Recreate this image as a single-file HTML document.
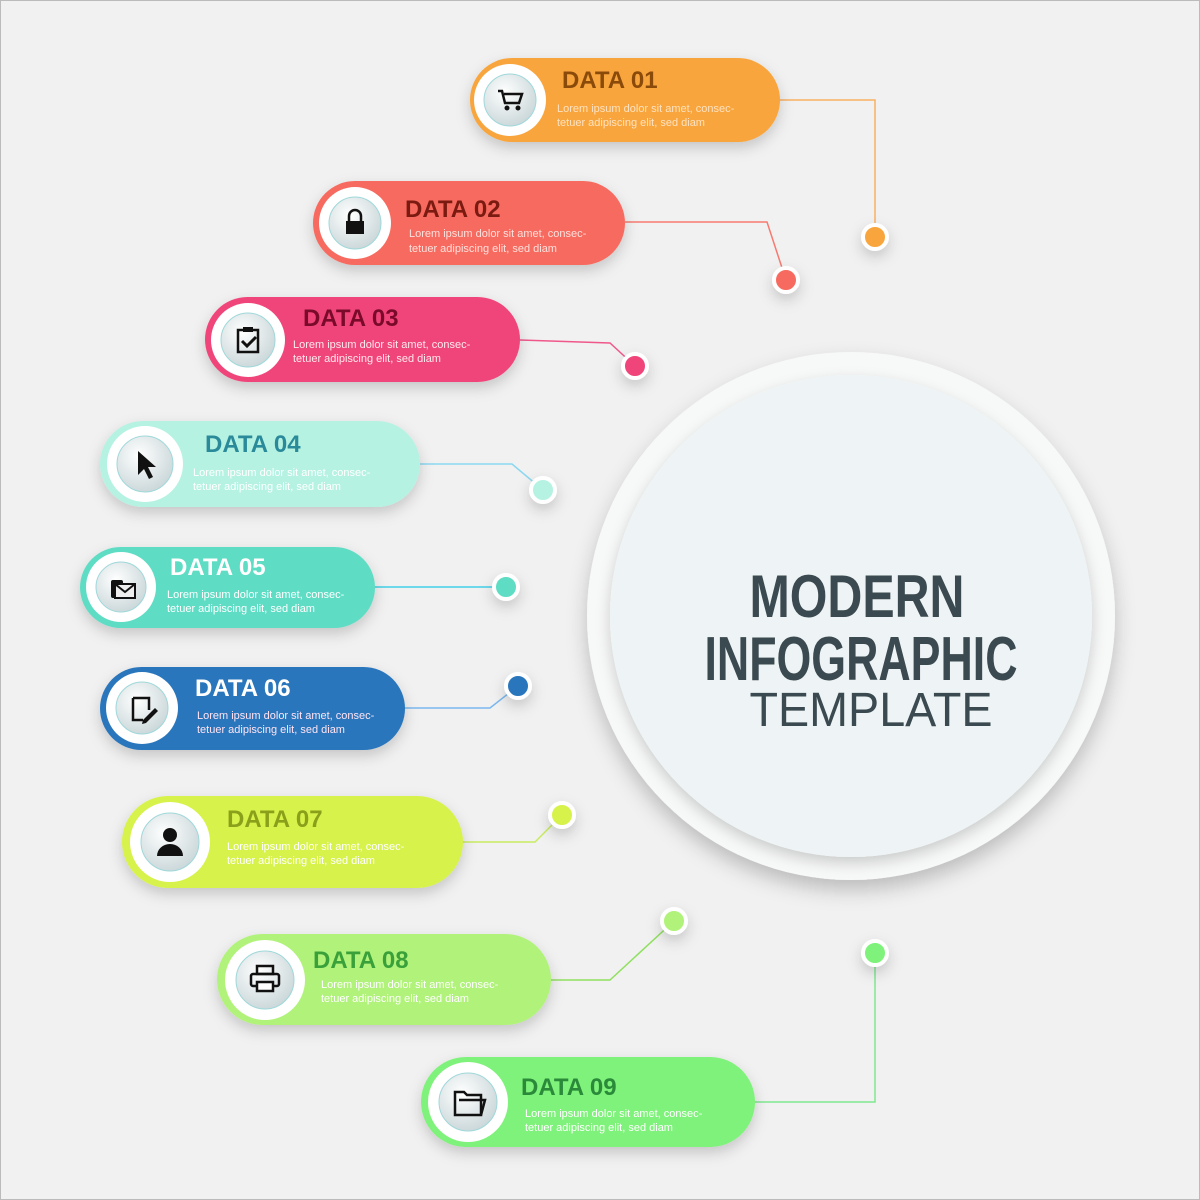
<!DOCTYPE html>
<html><head><meta charset="utf-8"><style>
html,body{margin:0;padding:0;background:#f1f1f1;}
svg{display:block}
.t{font-family:"Liberation Sans",sans-serif;font-weight:bold;font-size:24px}
.b{font-family:"Liberation Sans",sans-serif;font-size:11px}
</style></head><body>
<svg width="1200" height="1200" viewBox="0 0 1200 1200" xmlns="http://www.w3.org/2000/svg">
<defs>
<filter id="sh" x="-20%" y="-30%" width="140%" height="170%"><feDropShadow dx="0" dy="6" stdDeviation="7" flood-color="#000" flood-opacity="0.18"/></filter>
<filter id="sh2" x="-20%" y="-20%" width="140%" height="150%"><feDropShadow dx="0" dy="10" stdDeviation="10" flood-color="#000" flood-opacity="0.22"/></filter>
<radialGradient id="ig" cx="0.4" cy="0.35" r="0.7"><stop offset="0" stop-color="#ffffff"/><stop offset="1" stop-color="#c9d6d8"/></radialGradient>
</defs>
<rect x="0.5" y="0.5" width="1199" height="1199" fill="#f1f1f1" stroke="#bbb"/>

<!-- big circle -->
<circle cx="851" cy="616" r="264" fill="#f7f8f8" filter="url(#sh2)"/>
<circle cx="851" cy="616" r="241" fill="#eef4f5" filter="url(#sh)"/>
<g font-family="Liberation Sans,sans-serif" fill="#3b4a50" text-anchor="middle">
<text x="857" y="617" font-size="60" font-weight="bold" textLength="215" lengthAdjust="spacingAndGlyphs">MODERN</text>
<text x="861" y="680" font-size="62" font-weight="bold" textLength="313" lengthAdjust="spacingAndGlyphs">INFOGRAPHIC</text>
<text x="871" y="726" font-size="48" textLength="243" lengthAdjust="spacingAndGlyphs">TEMPLATE</text>
</g>

<!-- connectors -->
<g fill="none" stroke-width="1.5">
<polyline points="780,100 875,100 875,237" stroke="#f9b060"/>
<polyline points="625,222 767,222 786,280" stroke="#f77a70"/>
<polyline points="520,340 610,343 635,366" stroke="#f0588a"/>
<polyline points="420,464 512,464 543,490" stroke="#8ad8f0"/>
<polyline points="375,587 506,587" stroke="#40d0e8"/>
<polyline points="405,708 490,708 518,686" stroke="#7ab8f0"/>
<polyline points="463,842 535,842 562,815" stroke="#c8ec60"/>
<polyline points="551,980 610,980 674,921" stroke="#90e060"/>
<polyline points="755,1102 875,1102 875,953" stroke="#80e890"/>
</g>
<g stroke="#fff" stroke-width="4" filter="url(#sh)">
<circle cx="875" cy="237" r="12" fill="#f9a53c"/>
<circle cx="786" cy="280" r="12" fill="#f76b5f"/>
<circle cx="635" cy="366" r="12" fill="#f0457a"/>
<circle cx="543" cy="490" r="12" fill="#b5f2e2"/>
<circle cx="506" cy="587" r="12" fill="#5fdcc4"/>
<circle cx="518" cy="686" r="12" fill="#2a76bc"/>
<circle cx="562" cy="815" r="12" fill="#d6f24c"/>
<circle cx="674" cy="921" r="12" fill="#b0f27a"/>
<circle cx="875" cy="953" r="12" fill="#7ef27a"/>
</g>

<!-- pills -->
<g filter="url(#sh)">
<rect x="470" y="58" width="310" height="84" rx="42" fill="#f9a53c"/>
<rect x="313" y="181" width="312" height="84" rx="42" fill="#f76b5f"/>
<rect x="205" y="297" width="315" height="85" rx="42.5" fill="#f0457a"/>
<rect x="100" y="421" width="320" height="86" rx="43" fill="#b5f2e2"/>
<rect x="80" y="547" width="295" height="81" rx="40.5" fill="#5fdcc4"/>
<rect x="100" y="667" width="305" height="83" rx="41.5" fill="#2a76bc"/>
<rect x="122" y="796" width="341" height="92" rx="46" fill="#d6f24c"/>
<rect x="217" y="934" width="334" height="91" rx="45.5" fill="#b0f27a"/>
<rect x="421" y="1057" width="334" height="90" rx="45" fill="#7ef27a"/>
</g>

<!-- icon circles -->
<g>
<circle cx="510" cy="100" r="36" fill="#fff"/><circle cx="510" cy="100" r="26" fill="url(#ig)" stroke="#9fd8da"/>
<circle cx="355" cy="223" r="36" fill="#fff"/><circle cx="355" cy="223" r="26" fill="url(#ig)" stroke="#9fd8da"/>
<circle cx="248" cy="340" r="37" fill="#fff"/><circle cx="248" cy="340" r="27" fill="url(#ig)" stroke="#9fd8da"/>
<circle cx="145" cy="464" r="38" fill="#fff"/><circle cx="145" cy="464" r="28" fill="url(#ig)" stroke="#9fd8da"/>
<circle cx="121" cy="587" r="35" fill="#fff"/><circle cx="121" cy="587" r="25" fill="url(#ig)" stroke="#9fd8da"/>
<circle cx="142" cy="708" r="36" fill="#fff"/><circle cx="142" cy="708" r="26" fill="url(#ig)" stroke="#9fd8da"/>
<circle cx="170" cy="842" r="40" fill="#fff"/><circle cx="170" cy="842" r="29" fill="url(#ig)" stroke="#9fd8da"/>
<circle cx="265" cy="980" r="40" fill="#fff"/><circle cx="265" cy="980" r="29" fill="url(#ig)" stroke="#9fd8da"/>
<circle cx="468" cy="1102" r="40" fill="#fff"/><circle cx="468" cy="1102" r="29" fill="url(#ig)" stroke="#9fd8da"/>
</g>

<!-- icons -->
<g fill="#111" stroke="#111">
<!-- cart -->
<path d="M498,91 h4 l3,12 h14 l3,-9 h-18" fill="none" stroke-width="2.5"/><circle cx="507" cy="108" r="2"/><circle cx="518" cy="108" r="2"/>
<!-- lock -->
<path d="M349,221 v-5 a6,6 0 0 1 12,0 v5" fill="none" stroke-width="2.5"/><rect x="346" y="221" width="18" height="13" stroke="none"/>
<!-- clipboard -->
<rect x="238" y="330" width="20" height="22" fill="none" stroke-width="2.5"/><rect x="243" y="327" width="10" height="5" stroke="none"/><path d="M242,341 l5,5 l9,-9" fill="none" stroke-width="3"/>
<!-- cursor -->
<path d="M138,451 l0,24 l6,-6 l5,10 l4,-2 l-5,-10 l8,0 z" stroke="none"/>
<!-- mail -->
<rect x="111" y="580" width="12" height="18" rx="2" stroke="none"/><rect x="115" y="584" width="20" height="14" fill="#eee" stroke-width="2"/><path d="M115,584 l10,8 l10,-8" fill="none" stroke-width="2"/>
<!-- note -->
<path d="M133,698 h16 v12 M133,698 v22 h10" fill="none" stroke-width="2.5"/><path d="M143,720 l12,-12 l3,3 l-12,12 l-4,1 z" stroke="none"/>
<!-- user -->
<circle cx="170" cy="835" r="7" stroke="none"/><path d="M157,856 a13,12 0 0 1 26,0 z" stroke="none"/>
<!-- printer -->
<rect x="257" y="966" width="16" height="8" fill="none" stroke-width="2.5"/><rect x="251" y="974" width="28" height="12" rx="2" fill="none" stroke-width="2.5"/><rect x="257" y="982" width="16" height="9" fill="#fff" stroke-width="2.5"/>
<!-- folder -->
<path d="M455,1092 h9 l3,3 h14 v20 h-26 z" fill="none" stroke-width="2.5"/><path d="M459,1100 h26 l-4,15" fill="none" stroke-width="2.5"/>
</g>

<!-- text -->
<g>
<text class="t" x="562" y="88" fill="#8a4a0a">DATA 01</text>
<text class="b" x="557" y="112" fill="#fde2c0">Lorem ipsum dolor sit amet, consec-</text>
<text class="b" x="557" y="126" fill="#fde2c0">tetuer adipiscing elit, sed diam</text>

<text class="t" x="405" y="217" fill="#7a1a10">DATA 02</text>
<text class="b" x="409" y="237" fill="#fde0dc">Lorem ipsum dolor sit amet, consec-</text>
<text class="b" x="409" y="252" fill="#fde0dc">tetuer adipiscing elit, sed diam</text>

<text class="t" x="303" y="326" fill="#7a0a2a">DATA 03</text>
<text class="b" x="293" y="348" fill="#ffe8ee">Lorem ipsum dolor sit amet, consec-</text>
<text class="b" x="293" y="362" fill="#ffe8ee">tetuer adipiscing elit, sed diam</text>

<text class="t" x="205" y="452" fill="#2a8a9a">DATA 04</text>
<text class="b" x="193" y="476" fill="#fff">Lorem ipsum dolor sit amet, consec-</text>
<text class="b" x="193" y="490" fill="#fff">tetuer adipiscing elit, sed diam</text>

<text class="t" x="170" y="575" fill="#fff">DATA 05</text>
<text class="b" x="167" y="598" fill="#fff">Lorem ipsum dolor sit amet, consec-</text>
<text class="b" x="167" y="612" fill="#fff">tetuer adipiscing elit, sed diam</text>

<text class="t" x="195" y="696" fill="#fff">DATA 06</text>
<text class="b" x="197" y="719" fill="#ffe4f4">Lorem ipsum dolor sit amet, consec-</text>
<text class="b" x="197" y="733" fill="#ffe4f4">tetuer adipiscing elit, sed diam</text>

<text class="t" x="227" y="827" fill="#8aa01a">DATA 07</text>
<text class="b" x="227" y="850" fill="#fff">Lorem ipsum dolor sit amet, consec-</text>
<text class="b" x="227" y="864" fill="#fff">tetuer adipiscing elit, sed diam</text>

<text class="t" x="313" y="968" fill="#3aa03a">DATA 08</text>
<text class="b" x="321" y="988" fill="#fff">Lorem ipsum dolor sit amet, consec-</text>
<text class="b" x="321" y="1002" fill="#fff">tetuer adipiscing elit, sed diam</text>

<text class="t" x="521" y="1095" fill="#2a8a3a">DATA 09</text>
<text class="b" x="525" y="1117" fill="#fff">Lorem ipsum dolor sit amet, consec-</text>
<text class="b" x="525" y="1131" fill="#fff">tetuer adipiscing elit, sed diam</text>
</g>
</svg>
</body></html>
